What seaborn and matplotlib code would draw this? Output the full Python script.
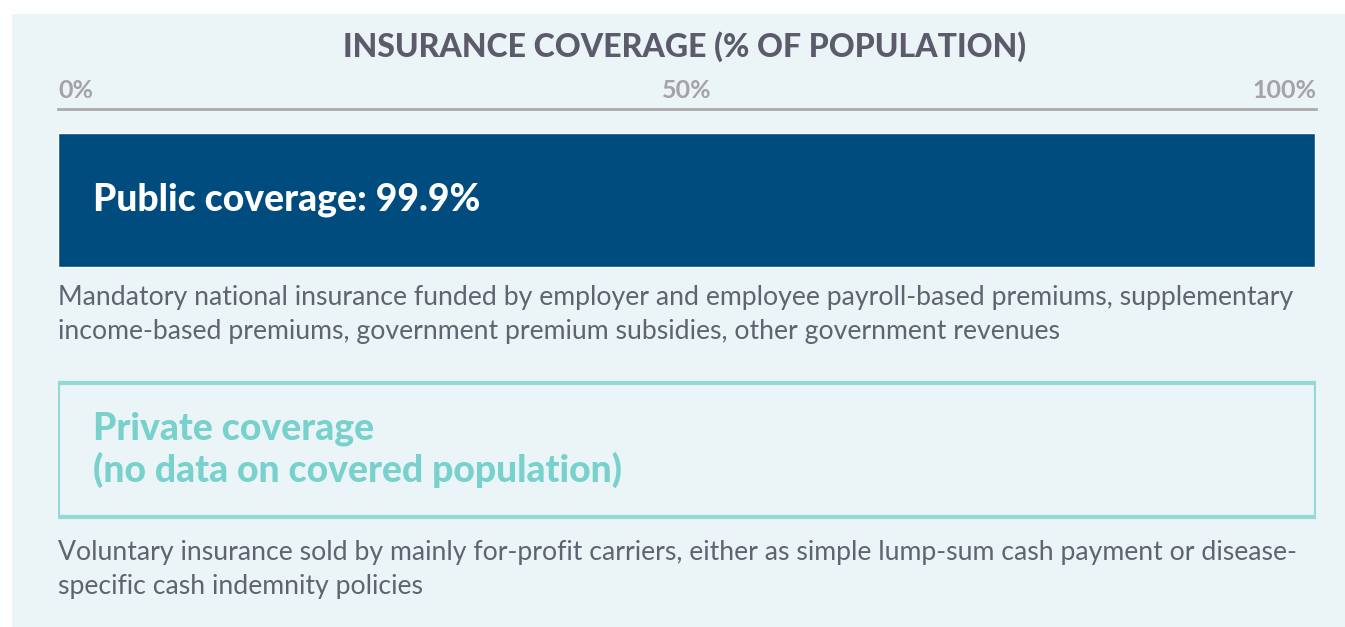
"""
Insurance coverage (% of population) - public vs private
"""

# ============================================================================
# Import Required Libraries
# ============================================================================

import matplotlib
matplotlib.use("Agg")

import pandas as pd
import matplotlib.pyplot as plt
import seaborn as sns
from matplotlib.patches import Rectangle


# ============================================================================
# Chart Data
# ============================================================================

categories = ["Public coverage", "Private coverage"]

coverage = [99.9, None]

bar_labels = [
    "Public coverage: 99.9%",
    "Private coverage\n(no data on covered population)",
]

descriptions = [
    "Mandatory national insurance funded by employer and employee payroll-based premiums, supplementary\n"
    "income-based premiums, government premium subsidies, other government revenues",
    "Voluntary insurance sold by mainly for-profit carriers, either as simple lump-sum cash payment or disease-\n"
    "specific cash indemnity policies",
]

tick_values = [0, 50, 100]
tick_labels = ["0%", "50%", "100%"]

title = "INSURANCE COVERAGE (% OF POPULATION)"


# ============================================================================
# Configure Visualization
# ============================================================================

sns.set_theme(style="white")
plt.rcParams["font.family"] = ["Lato", "DejaVu Sans"]

W, H = 1345, 627
BG = "#EBF4F6"
DARK_BLUE = "#004C7E"
TEAL_TEXT = "#78D1CC"
TEAL_EDGE = "#95D9D7"
BODY = "#5F6470"
TITLE = "#5B5B6B"
TICK = "#A3A3A8"

df = pd.DataFrame({"category": categories, "coverage": coverage})

fig = plt.figure(figsize=(W / 100, H / 100), dpi=100, facecolor="white")

# light panel behind everything
fig.patches.append(
    Rectangle((12 / W, 0), 1 - 12 / W, 1 - 14 / H,
              transform=fig.transFigure, facecolor=BG, edgecolor="none", zorder=-10)
)

ax = fig.add_axes([58 / W, 1 - 600 / H, (1316 - 58) / W, (600 - 109) / H])
ax.patch.set_alpha(0)
ax.set_zorder(5)


# ============================================================================
# Bars
# ============================================================================

bar_h = 0.537

sns.barplot(
    data=df.dropna(),
    x="coverage",
    y="category",
    order=categories,
    orient="h",
    color=DARK_BLUE,
    saturation=1,
    width=bar_h,
    ax=ax,
)

# private coverage has no data: outline frame across the whole scale
ax.axhspan(1 - bar_h / 2, 1 + bar_h / 2, xmin=0, xmax=1,
           fill=False, edgecolor=TEAL_EDGE, linewidth=3)

ax.set_xlim(tick_values[0], tick_values[-1])
ax.set_ylim(1.603, -0.3647)


# ============================================================================
# Axis styling
# ============================================================================

ax.xaxis.tick_top()
ax.set_xticks(tick_values)
ax.set_xticklabels(tick_labels, fontsize=18, fontweight="bold", color=TICK)
ax.tick_params(axis="x", length=0, pad=5)
labels = ax.get_xticklabels()
labels[0].set_ha("left")
labels[-1].set_ha("right")

ax.set_yticks([])
ax.set_xlabel("")
ax.set_ylabel("")

for side in ["left", "right", "bottom"]:
    ax.spines[side].set_visible(False)
ax.spines["top"].set_color("#AAAAAA")
ax.spines["top"].set_linewidth(2)


# ============================================================================
# Text
# ============================================================================

fig.text(685 / W, 1 - 47 / H, title, ha="center", va="center",
         fontsize=23, fontweight="black", color=TITLE)

label_colors = ["white", TEAL_TEXT]
for i, (lab, col) in enumerate(zip(bar_labels, label_colors)):
    ax.annotate(lab, xy=(0, i), xytext=(35, 0), textcoords="offset pixels",
                ha="left", va="center", fontsize=26.8, fontweight="black",
                color=col, linespacing=1.18)

desc_gaps = [-18, -23]
for i, (desc, gap) in enumerate(zip(descriptions, desc_gaps)):
    ax.annotate(desc, xy=(0, i + bar_h / 2), xytext=(0, gap),
                textcoords="offset pixels", ha="left", va="top",
                fontsize=19.2, color=BODY, linespacing=1.46)


# ============================================================================
# Save
# ============================================================================

fig.savefig("out.png", dpi=100, facecolor=fig.get_facecolor())
print("Chart saved to out.png")
